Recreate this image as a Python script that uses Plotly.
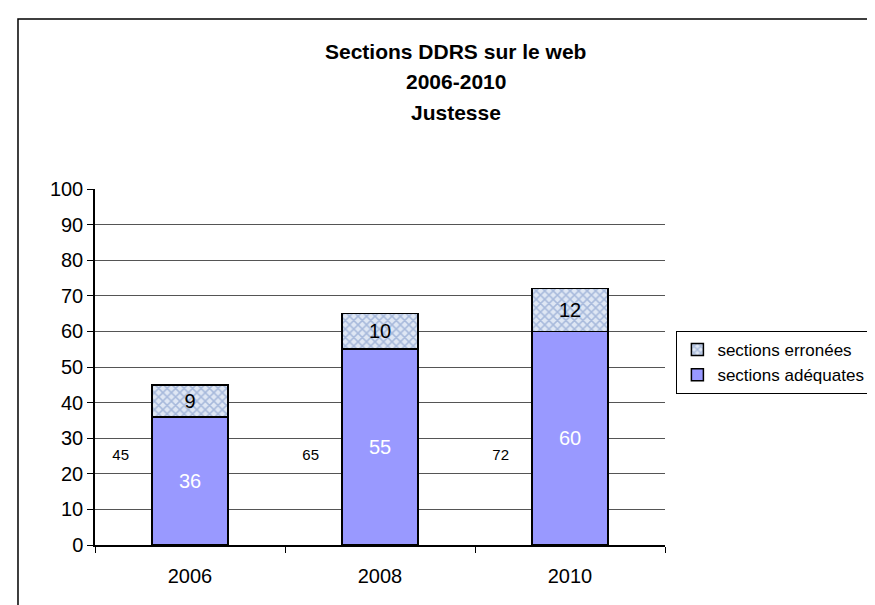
import plotly.graph_objects as go

years = ["2006", "2008", "2010"]
adequates = [36, 55, 60]
erronees = [9, 10, 12]
totals = [45, 65, 72]
title_lines = ["Sections DDRS sur le web", "2006-2010", "Justesse"]

FONT = "Liberation Sans, Arial, sans-serif"
xpos = list(range(len(years)))

fig = go.Figure()

fig.add_trace(go.Bar(
    x=xpos, y=adequates, name="sections adéquates", width=0.4,
    marker=dict(color="#9999FF", line=dict(color="black", width=1.5)),
    text=adequates, textposition="inside", insidetextanchor="middle",
    textfont=dict(color="white", size=20, family=FONT),
))
fig.add_trace(go.Bar(
    x=xpos, y=erronees, name="sections erronées", width=0.4,
    marker=dict(color="#d3deef", line=dict(color="black", width=1.5),
                pattern=dict(shape="x", fgcolor="#6f8cc2", bgcolor="#dfe7f4",
                             size=6, solidity=0.45)),
    text=erronees, textposition="inside", insidetextanchor="middle",
    textfont=dict(color="black", size=20, family=FONT),
))

# totals shown to the left of each bar
fig.add_trace(go.Scatter(
    x=[i - 0.365 for i in xpos], y=[25] * len(totals), mode="text",
    text=[str(t) for t in totals], showlegend=False, hoverinfo="skip",
    textfont=dict(size=15, color="black", family=FONT),
))

for i, line in enumerate(title_lines):
    fig.add_annotation(
        text="<b>%s</b>" % line, xref="paper", yref="paper",
        x=0.633, y=1.3876 - i * 0.0857, xanchor="center", yanchor="middle",
        showarrow=False, font=dict(size=21, color="black", family=FONT),
    )

# outer chart border
fig.add_shape(type="rect", xref="paper", yref="paper",
              x0=-0.1351, x1=1.7, y0=-0.4, y1=1.4775,
              line=dict(color="black", width=1.5), fillcolor="rgba(0,0,0,0)")

fig.update_layout(
    width=875, height=605,
    margin=dict(l=87, r=218, t=181, b=68),
    barmode="stack",
    paper_bgcolor="white", plot_bgcolor="white",
    font=dict(family=FONT, color="black"),
    legend=dict(
        x=1.02, y=0.601, xanchor="left", yanchor="top",
        bordercolor="black", borderwidth=1, bgcolor="white",
        font=dict(size=17, family=FONT), traceorder="reversed",
        itemwidth=30, tracegroupgap=0,
    ),
    showlegend=True,
)

fig.update_xaxes(
    range=[-0.5, 2.5], tickvals=xpos, ticktext=years, ticks="",
    showgrid=False, zeroline=False, showline=True, linecolor="black",
    linewidth=1.5, tickfont=dict(size=20, family=FONT),
    ticklabelstandoff=12,
    minor=dict(tick0=0.5, dtick=1, ticks="outside", ticklen=6,
               tickcolor="black", tickwidth=1, showgrid=False),
)
fig.update_yaxes(
    range=[0, 100], dtick=10, ticks="outside", ticklen=6, tickcolor="black",
    showgrid=True, gridcolor="#555555", gridwidth=1,
    zeroline=False, showline=True, linecolor="black", linewidth=1.5,
    tickfont=dict(size=20, family=FONT),
)

fig.write_html("out.html")
